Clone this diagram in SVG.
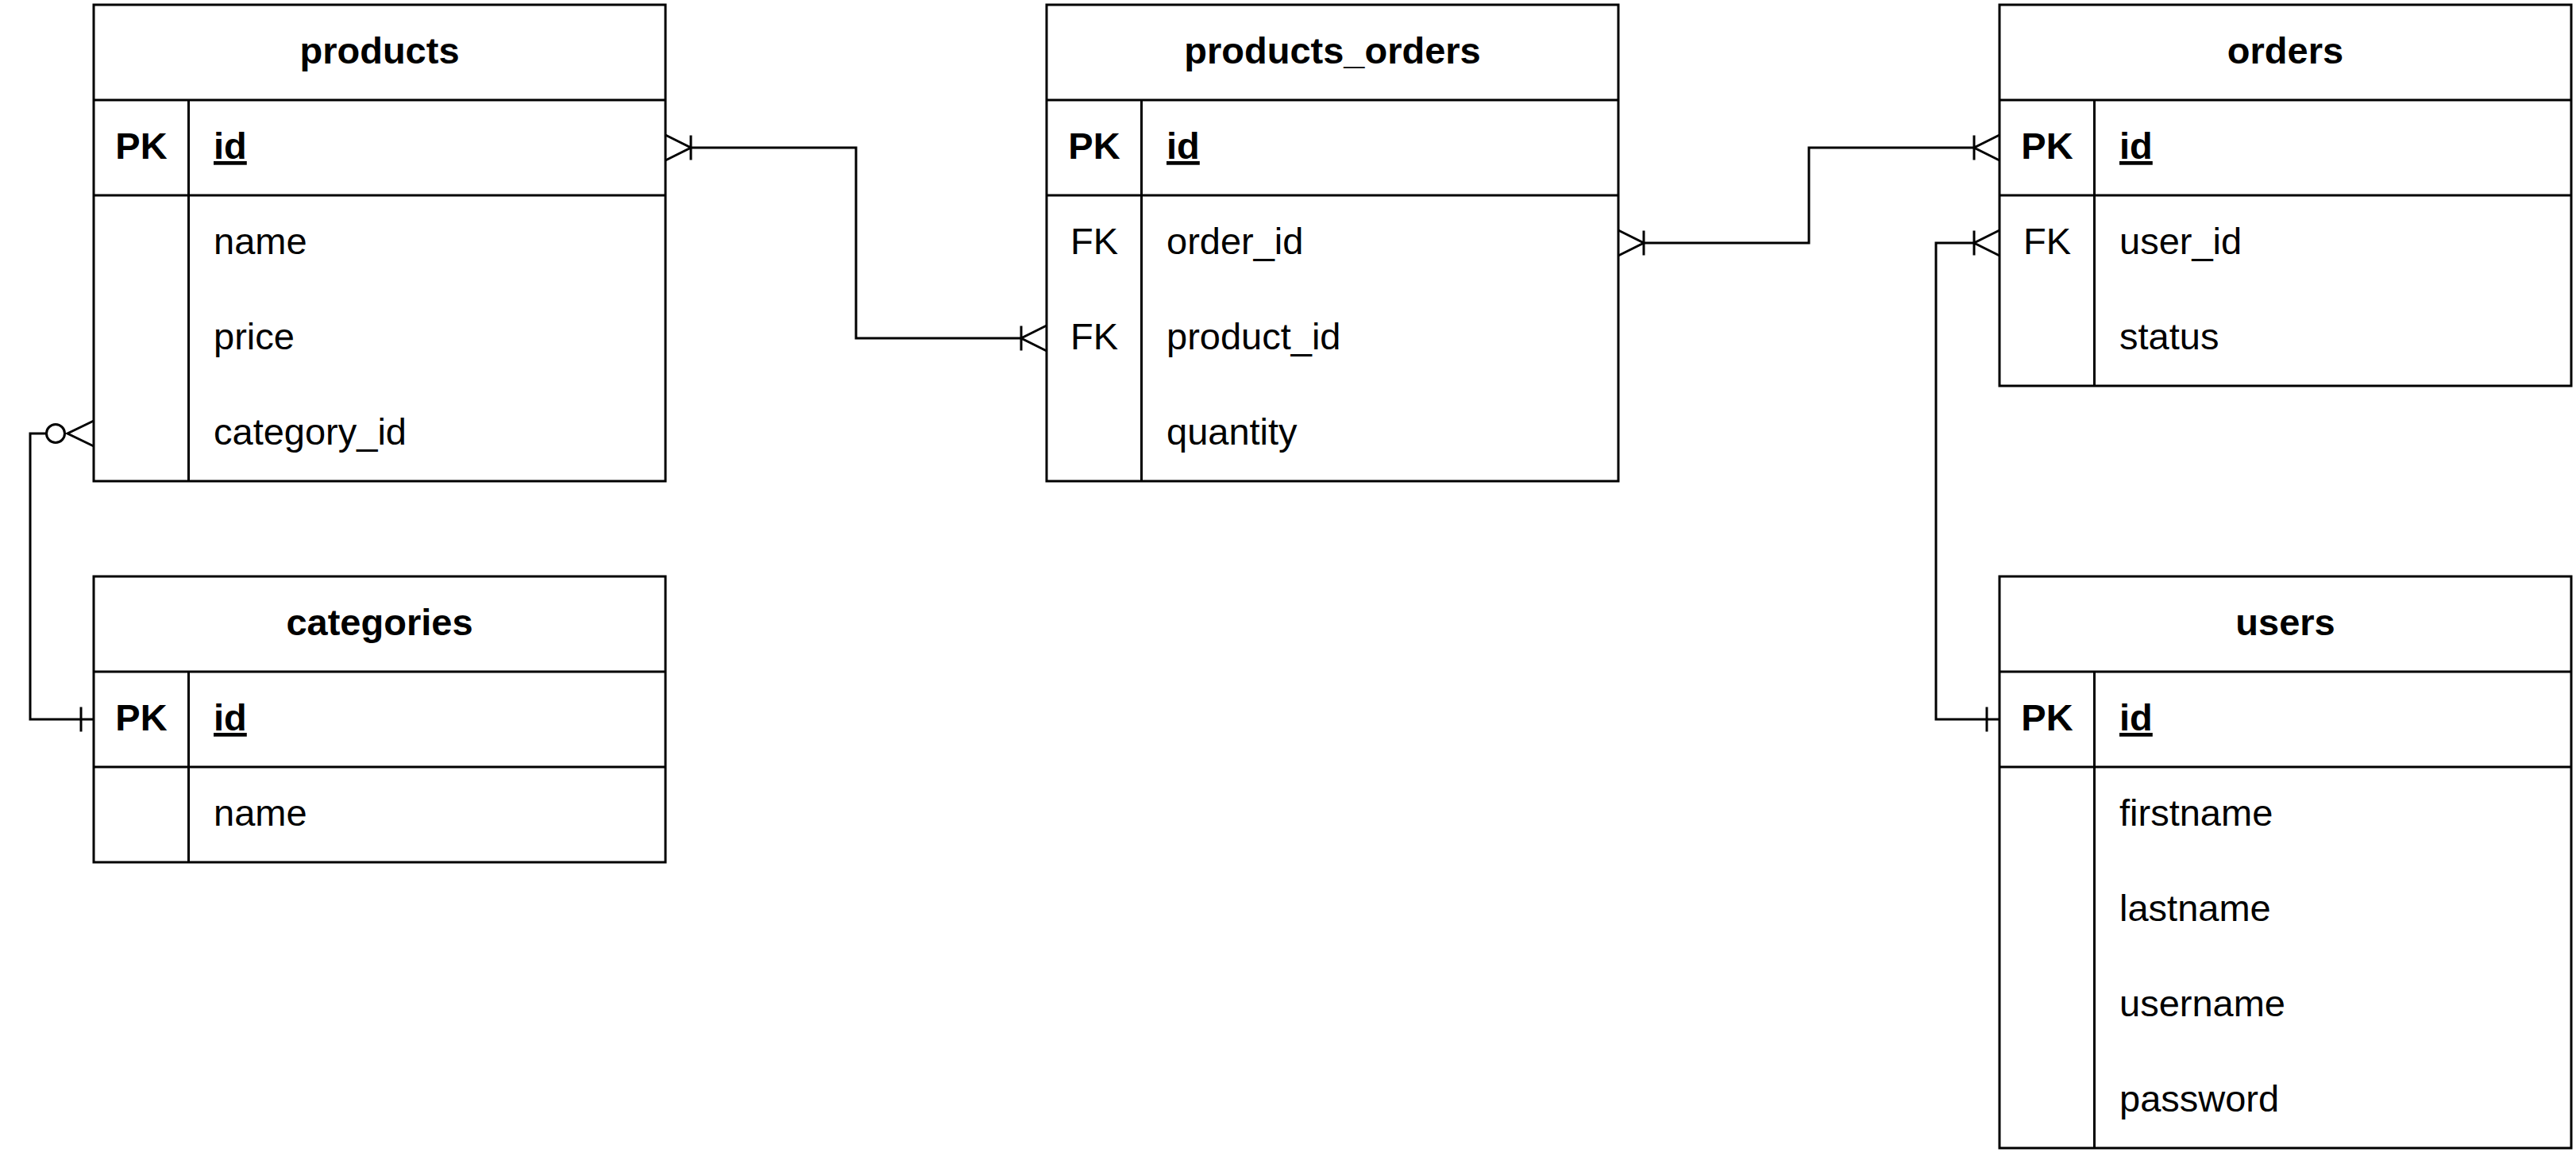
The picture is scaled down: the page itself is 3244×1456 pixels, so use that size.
<svg xmlns="http://www.w3.org/2000/svg" width="3244" height="1456" viewBox="0 0 3244 1456">
<style>
.box{fill:#ffffff;stroke:#000000;stroke-width:3}
.ln{stroke:#000000;stroke-width:3;fill:none}
text{font-family:"Liberation Sans",Arial,Helvetica,sans-serif;font-size:47px;fill:#000000}
.title{font-weight:bold;text-anchor:middle}
.key{text-anchor:middle}
.pk{font-weight:bold;text-anchor:middle}
.pkf{font-weight:bold;text-decoration:underline}
.edge{stroke:#000000;stroke-width:3;fill:none}
</style>
<defs>
<marker id="manyOne" markerUnits="userSpaceOnUse" markerWidth="80" markerHeight="40" viewBox="-20 -20 80 40" refX="0" refY="0" orient="auto-start-reverse" overflow="visible">
<path d="M0,-15.5 V15.5 M32,-16 L0,0 L32,16" fill="none" stroke="#000000" stroke-width="3"/>
</marker>
<marker id="one" markerUnits="userSpaceOnUse" markerWidth="40" markerHeight="40" viewBox="-20 -20 40 40" refX="0" refY="0" orient="auto-start-reverse" overflow="visible">
<path d="M-16,-15.5 V15.5" fill="none" stroke="#000000" stroke-width="3"/>
</marker>
<marker id="zeroMany" markerUnits="userSpaceOnUse" markerWidth="80" markerHeight="40" viewBox="-10 -20 80 40" refX="0" refY="0" orient="auto-start-reverse" overflow="visible">
<circle cx="12" cy="0" r="11.5" fill="#ffffff" stroke="#000000" stroke-width="3"/>
<path d="M60,-16 L27,0 L60,16" fill="none" stroke="#000000" stroke-width="3"/>
</marker>
</defs>
<rect x="0" y="0" width="3244" height="1456" fill="#ffffff"/>

<g id="products">
<rect class="box" x="118" y="6" width="720" height="600"/>
<path class="ln" d="M118,126 H838 M118,246 H838 M237.5,126 V606"/>
<text class="title" x="478" y="80">products</text>
<text class="pk" x="178" y="200">PK</text>
<text class="pkf" x="269" y="200">id</text>
<text x="269" y="320">name</text>
<text x="269" y="440">price</text>
<text x="269" y="560">category_id</text>
</g>

<g id="products_orders">
<rect class="box" x="1318" y="6" width="720" height="600"/>
<path class="ln" d="M1318,126 H2038 M1318,246 H2038 M1437.5,126 V606"/>
<text class="title" x="1678" y="80">products_orders</text>
<text class="pk" x="1378" y="200">PK</text>
<text class="pkf" x="1469" y="200">id</text>
<text class="key" x="1378" y="320">FK</text>
<text x="1469" y="320">order_id</text>
<text class="key" x="1378" y="440">FK</text>
<text x="1469" y="440">product_id</text>
<text x="1469" y="560">quantity</text>
</g>

<g id="orders">
<rect class="box" x="2518" y="6" width="720" height="480"/>
<path class="ln" d="M2518,126 H3238 M2518,246 H3238 M2637.5,126 V486"/>
<text class="title" x="2878" y="80">orders</text>
<text class="pk" x="2578" y="200">PK</text>
<text class="pkf" x="2669" y="200">id</text>
<text class="key" x="2578" y="320">FK</text>
<text x="2669" y="320">user_id</text>
<text x="2669" y="440">status</text>
</g>

<g id="categories">
<rect class="box" x="118" y="726" width="720" height="360"/>
<path class="ln" d="M118,846 H838 M118,966 H838 M237.5,846 V1086"/>
<text class="title" x="478" y="800">categories</text>
<text class="pk" x="178" y="920">PK</text>
<text class="pkf" x="269" y="920">id</text>
<text x="269" y="1040">name</text>
</g>

<g id="users">
<rect class="box" x="2518" y="726" width="720" height="720"/>
<path class="ln" d="M2518,846 H3238 M2518,966 H3238 M2637.5,846 V1446"/>
<text class="title" x="2878" y="800">users</text>
<text class="pk" x="2578" y="920">PK</text>
<text class="pkf" x="2669" y="920">id</text>
<text x="2669" y="1040">firstname</text>
<text x="2669" y="1160">lastname</text>
<text x="2669" y="1280">username</text>
<text x="2669" y="1400">password</text>
</g>

<g id="connectors">
<path id="e-products-po" class="edge" d="M870,186 H1078 V426 H1286" marker-start="url(#manyOne)" marker-end="url(#manyOne)"/>
<path id="e-po-orders" class="edge" d="M2070,306 H2278 V186 H2486" marker-start="url(#manyOne)" marker-end="url(#manyOne)"/>
<path id="e-users-orders" class="edge" d="M2518,906 H2438 V306 H2486" marker-start="url(#one)" marker-end="url(#manyOne)"/>
<path id="e-products-categories" class="edge" d="M58,546 H38 V906 H118" marker-start="url(#zeroMany)" marker-end="url(#one)"/>
</g>
</svg>
